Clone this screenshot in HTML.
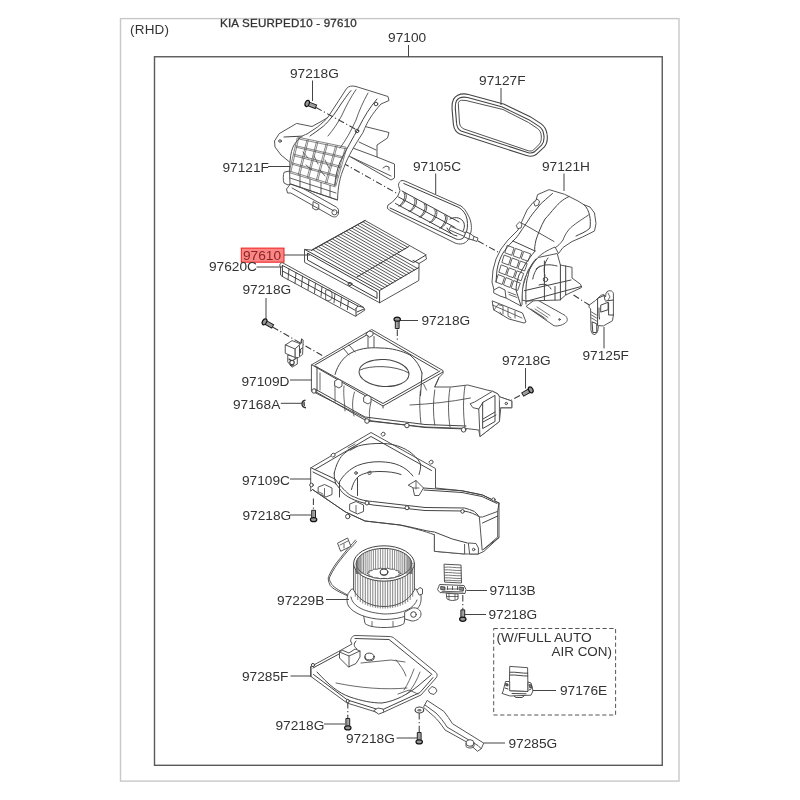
<!DOCTYPE html>
<html><head><meta charset="utf-8">
<style>
html,body{margin:0;padding:0;background:#fff;width:800px;height:800px;overflow:hidden}
svg{display:block;will-change:transform}
text{font-family:"Liberation Sans",sans-serif;font-size:13px;fill:#333}
.p{fill:none;stroke:#555;stroke-width:1;stroke-linejoin:round;stroke-linecap:round}
.pw{fill:#fff;stroke:#555;stroke-width:1;stroke-linejoin:round;stroke-linecap:round}
.l{fill:none;stroke:#444;stroke-width:1}
.d{fill:none;stroke:#3a3a3a;stroke-width:1.05;stroke-dasharray:6.5 2.5 1.2 2.5}
</style></head><body>
<svg width="800" height="800" viewBox="0 0 800 800">
<rect x="120.5" y="18.6" width="558.5" height="762.5" fill="none" stroke="#c8c8c8" stroke-width="1.4"/>
<rect x="154.5" y="56.75" width="507.75" height="708.55" fill="none" stroke="#5a5a5a" stroke-width="1.4"/>

<!-- labels -->
<text x="130" y="34" style="font-size:13.5px;letter-spacing:0.2px">(RHD)</text>
<text x="220" y="27.2" style="font-size:11.6px;letter-spacing:0.2px;stroke:#333;stroke-width:0.3">KIA SEURPED10 - 97610</text>
<text x="388" y="42.4" transform="matrix(1.055 0 0 1 -21.34 0)">97100</text>
<line class="l" x1="408.5" y1="45" x2="408.5" y2="57"/>

<g id="labels">
<text x="290" y="78.5" transform="matrix(1.055 0 0 1 -15.95 0)">97218G</text>
<text x="479" y="85.5" transform="matrix(1.055 0 0 1 -26.34 0)">97127F</text>
<text x="222.5" y="171.8" transform="matrix(1.055 0 0 1 -12.24 0)">97121F</text>
<text x="413" y="170.8" transform="matrix(1.055 0 0 1 -22.71 0)">97105C</text>
<text x="542" y="170.8" transform="matrix(1.055 0 0 1 -29.81 0)">97121H</text>
<rect x="241.3" y="248.1" width="42.7" height="14.1" fill="#fb8686" stroke="#f01c1c" stroke-width="1"/>
<text x="243" y="259.6" style="fill:#8a2424" transform="matrix(1.055 0 0 1 -13.37 0)">97610</text>
<text x="209" y="271.4" transform="matrix(1.055 0 0 1 -11.49 0)">97620C</text>
<text x="242.5" y="294.3" transform="matrix(1.055 0 0 1 -13.34 0)">97218G</text>
<text x="421.5" y="325.3" transform="matrix(1.055 0 0 1 -23.18 0)">97218G</text>
<text x="502" y="365.3" transform="matrix(1.055 0 0 1 -27.61 0)">97218G</text>
<text x="582.5" y="359.8" transform="matrix(1.055 0 0 1 -32.04 0)">97125F</text>
<text x="241.5" y="385.8" transform="matrix(1.055 0 0 1 -13.28 0)">97109D</text>
<text x="233" y="408.8" transform="matrix(1.055 0 0 1 -12.81 0)">97168A</text>
<text x="242" y="484.8" transform="matrix(1.055 0 0 1 -13.31 0)">97109C</text>
<text x="242.5" y="520.2" transform="matrix(1.055 0 0 1 -13.34 0)">97218G</text>
<text x="277" y="605.3" transform="matrix(1.055 0 0 1 -15.23 0)">97229B</text>
<text x="489.5" y="595.2" transform="matrix(1.055 0 0 1 -26.92 0)">97113B</text>
<text x="488.5" y="619.3" transform="matrix(1.055 0 0 1 -26.87 0)">97218G</text>
<text x="496.5" y="642.4" transform="matrix(1.055 0 0 1 -27.31 0)">(W/FULL AUTO</text>
<text x="551.5" y="656.5" transform="matrix(1.035 0 0 1 -19.30 0)">AIR CON)</text>
<text x="560" y="695.5" transform="matrix(1.055 0 0 1 -30.80 0)">97176E</text>
<text x="242" y="680.8" transform="matrix(1.055 0 0 1 -13.31 0)">97285F</text>
<text x="275.5" y="729.8" transform="matrix(1.055 0 0 1 -15.15 0)">97218G</text>
<text x="346" y="743.5" transform="matrix(1.055 0 0 1 -19.03 0)">97218G</text>
<text x="508.5" y="748.1" transform="matrix(1.055 0 0 1 -27.97 0)">97285G</text>
</g>



<!-- dashed center lines -->
<g class="d">
<path d="M343 163L398 194"/>
<path d="M478 241L498 252"/>
<path d="M573.5 295L590 305.5"/>
<path d="M272.5 327L323 356"/>
<path d="M397.3 329.5V340"/>
<path d="M313.4 498.5V510"/>
<path d="M462.8 595V611"/>
<path d="M347.8 702V718"/>
<path d="M419.2 713V732"/>
<path d="M520 395.5L511.5 400"/>
</g>

<!-- 97109D upper case -->
<g class="p" style="stroke:#444">
<path class="pw" d="M311.75 364.75L371.75 329.5L443 370.6L443 373.4L439 377.5L434.75 387L451 387L467.75 385L487 390L492.5 391.25L498 394L499.4 396.75L511.8 401L511.8 407.75L500.8 407.75L499.4 421.5L480 436.6L478.75 430L465 428.4L425 427L368 421L365 418L311.75 391Z"/>
<path d="M311.75 364.75L383 406L443 372M315 366L383 403.5L440 371M315 365L371.75 332L438 370.5"/>
<path d="M311.75 391L317 392.5L365 420L425 427.5L465 429M315 389L365 417L425 424.5L466 426"/>
<path d="M383 406L383 408M317 367L317 391M335 374.5C338 364 344 357 350 353.5C358 349 368 347 380 348C392 348 402 351 410 355C416 360 420 366 422 373M422 373L420.5 395.5"/>
<ellipse cx="384" cy="373" rx="25" ry="13.5" transform="rotate(4 384 373)"/>
<path d="M360 370C370 365 395 365 409 373" stroke-width="0.9"/>
<path d="M368 333V347.5M374 336.5V347M343 348l6 7M349 345l6 7" stroke-width="0.9"/>
<path d="M320 373V390M335 381V402M344 386C343 395 345 405 345 411M354.5 392C352 400 352 408 354 416M371 402C369 410 369 415 370 421" stroke-width="0.8"/>
<path d="M439 377.5L434.75 387M423.75 384.4C425 387 426 389 426.5 390M420.3 391C419 402 420 415 421 424M434.75 390C433 402 433 414 434.75 425M450 388C448 400 448 414 450 427M465 386C463 398 463 414 465 428M410 405C430 404 450 402 470.5 398" stroke-width="0.85"/>
<path class="pw" d="M470.5 403.6L474.6 402L492.5 391.25L498 394L499.4 396.75L499.4 421.5L480 436.6L478.75 409L473.25 407.75Z"/>
<path d="M483 402.25L495 395.4L495 421.5L483 428.4ZM483 419L495 412M483 422L496 415M478.75 409L483 402.25"/>
<path class="pw" d="M499.4 396.75L511.8 401L511.8 407.75L500.8 407.75"/>
<circle cx="506.3" cy="403.5" r="1.2"/>
<circle cx="314" cy="391" r="2.2" fill="#fff"/><circle cx="367" cy="421" r="2.3" fill="#fff"/><circle cx="407" cy="425.5" r="2.3" fill="#fff"/><circle cx="463.6" cy="429.8" r="2.3" fill="#fff"/>
<path class="pw" d="M335 381l3-2l4 2v5l-3 2l-4-2ZM364 397l3-2l4 2v5l-3 2l-4-2Z"/>
<path class="pw" d="M366 334l3-3l4 1v3l-3 2Z" stroke-width="0.9"/>
</g>

<!-- 97109C lower case -->
<g class="p" style="stroke:#444">
<path class="pw" d="M311 467.75L371 432.5L435.5 468.5L435.5 488L462 490.75L482.5 495L499 503L499 537.5L484 551.3L478.4 554L468.75 554L464.6 554L434.4 551.3L434.4 534.8C425 531 412 528 400 525L365 521L345.5 512L312.5 489.5L311 491Z"/>
<path d="M311 467.75L335 479C339 484 341 487 344 489.5C348 494 351 496 354.5 497C360 500 366 501 372.5 501.5L425 507.5L464.6 508C468 509 471 510 474.3 511.4L478.4 515.5M313 472L335 483C339 487 340 490 342.5 492.5C346 496 350 498 354.5 500C362 503 368 504 373 505L425 510.5L464 511C470 512 475 514 479.75 517"/>
<path d="M315 469.5L371 436.5L431.5 470.5"/>
<path d="M423.4 488L462 490.75L482.5 495L499 503M424 490L462 492.5L482 496.5L497 503.5"/>
<path d="M312.5 489.5L345.5 512L365 521L400 525C412 527 425 531 434.4 532L452.3 539L467.4 543"/>
<path d="M334.25 473C336 465 339 459 342.5 455C349 449 356 446 365 444.5C372 443.5 380 443.2 387.5 443.75C397 445 404 448 410 452C415 456 419 460 420.5 464C421 468 420 471 419 474.5"/>
<path d="M339.5 482C343 475 350 469 357.5 465.5C364 463 372 461.5 380 461.75C388 462 394 463 399.5 465.5C405 468 409 471 413 476"/>
<path d="M351.5 489.5C353 483 355.5 479 359 476C365 472.5 372 471.5 380 471.5C388 471.5 396 472.5 401 474.5"/>
<path d="M357.5 477.5V495.5M339.5 482V497M334.25 473C334 478 335 481 336 484"/>
<path class="pw" d="M408.5 485L416 480.5L423.5 488L419 495.5L414.5 495.5L413 488Z"/>
<path d="M416 480.5V489M413 488L419 488" stroke-width="0.8"/>
<circle cx="356" cy="473" r="1.3"/>
<path d="M368 472l3-1v3l-2 .5Z" stroke-width="0.8"/>
<path class="pw" d="M434.4 534.8L434.4 551.3L464.6 554L464.6 544.4"/>
<path class="pw" d="M479.75 517L482.5 517L497.7 511.4L497.7 537L484 549L482.5 550Z"/>
<path d="M499 503L497.7 511.4M482.5 523L497.7 516M484 549L499 537.5"/>
<path class="pw" d="M468.75 543L476 543.5L478.4 548L478.4 554L470 554Z"/>
<circle cx="473.6" cy="549.5" r="1.2"/>
<path class="pw" d="M318.5 487l6-2.5l7.5 3.5v6.5l-6 2.5l-7.5-3.5ZM350 504l6-2.5l7.5 3.5v6.5l-6 2.5l-7.5-3.5Z"/>
<path d="M324.5 488.5v7M356 505.5v7M319 492l4 2" stroke-width="0.8"/>
<circle cx="347.75" cy="516.5" r="2.2" fill="#fff"/><circle cx="367" cy="503" r="2" fill="#fff"/><circle cx="407" cy="507.8" r="2" fill="#fff"/><circle cx="462.6" cy="511.4" r="1.8" fill="#fff"/><circle cx="493.5" cy="499.5" r="1.6" fill="#fff"/>
<circle cx="311.5" cy="485" r="1.8" fill="#fff"/>
<path class="pw" d="M331 455l2-2l2 1v2l-2 1ZM381 434l2-2l2 1v2l-2 1ZM429 462l2-2l2 1v2l-2 1Z" stroke-width="0.9"/>
<path d="M348 448l7-4M350 450.5l7-4" stroke-width="0.8"/>
</g>

<!-- 97229B blower motor -->
<g class="p" style="stroke:#444">
<path d="M347.6 595C338 590 332 586 331.4 583.6C329 580 329 578 329.75 577C333 570 337 564 341 559.25C346 553 350 548 354 544.6L356.5 541.4M349 596.5C339 592 333 589 330.2 585.5C328 581 328 578 328.6 576.5C332 569 336 563 340 558.5C345 552 349 547 352.5 543.5L355.5 540" stroke-width="0.9"/>
<path class="pw" d="M337.9 543L347.6 538L350.9 546.25L341 551.1Z"/>
<path d="M340 545l8-4M344 548v-4" stroke-width="0.8"/>
<path class="pw" d="M363.5 615L365 623.5C368 626 374 627.5 384 627.5C394 627.5 401 626 404 623.5L405.5 615Z"/>
<path d="M372 626.5v-5M393 626.5v-5" stroke-width="0.8"/>
<path class="pw" d="M348 594C346.5 598 346.5 603 348.5 606C353 613 366 619 384 619.5C402 619.5 414 614 419 606.5C421.5 603 421.5 597 420.5 592L416 589L352 589Z"/>
<path d="M351 597C352 604 360 612 384 614C404 614 414 608 417 600" stroke-width="0.9"/>
<path class="pw" d="M405 612L412 608C417 607 421 610 421 614C421 618 417 621 412 621L405 619Z"/>
<circle cx="413.5" cy="614.5" r="2.8"/>
<path class="pw" d="M417 590l3-2.5l2.5 1.5v5l-3 1Z" stroke-width="0.9"/>
<path class="pw" d="M353.6 563.5L353.6 590C360 602 372 606.5 384 606.5C396 606.5 408 602 414.4 590L414.4 563.5Z"/>
<ellipse cx="384" cy="563.5" rx="30.4" ry="17.7" fill="#fff"/>
<ellipse cx="384" cy="563.5" rx="27.8" ry="15.1"/>
<path stroke-width="0.75" stroke="#666" d="M356.2 563.3V573.5M356.4 562.0V573.5M356.9 560.7V573.5M357.5 559.5V573.5M358.3 558.2V573.5M359.3 557.0V573.5M360.6 555.9V573.5M361.9 554.8V573.5M363.5 553.8V573.5M365.2 552.9V573.5M367.1 552.0V573.5M369.1 551.3V572.8M371.2 550.6V572.1M373.4 550.0V571.5M375.6 549.6V571.1M378.0 549.3V570.8M380.4 549.0V570.5M382.8 548.9V570.4M385.2 548.9V570.4M387.6 549.0V570.5M390.0 549.3V570.8M392.4 549.6V571.1M394.6 550.0V571.5M396.8 550.6V572.1M398.9 551.3V572.8M400.9 552.0V573.5M402.8 552.9V573.5M404.5 553.8V573.5M406.1 554.8V573.5M407.4 555.9V573.5M408.7 557.0V573.5M409.7 558.2V573.5M410.5 559.5V573.5M411.1 560.7V573.5M411.6 562.0V573.5M411.8 563.3V573.5"/>
<path d="M401.0 573.5L398.6 574.6L399.3 575.9L395.7 576.5L394.6 577.8L390.5 577.8L387.8 578.8L384.0 578.3L380.2 578.8L377.5 577.8L373.4 577.8L372.3 576.5L368.7 575.9L369.4 574.6L367.0 573.5L369.4 572.4L368.7 571.1L372.3 570.5L373.4 569.2L377.5 569.2L380.2 568.2L384.0 568.7L387.8 568.2L390.5 569.2L394.6 569.2L395.7 570.5L399.3 571.1L398.6 572.4Z" fill="#fff" stroke-width="0.8"/>
<ellipse cx="384" cy="572" rx="4" ry="3" fill="#fff"/>
<path d="M380.5 572.5v1.5c2 2 5 2 7 0v-1.5" stroke-width="0.8"/>
<path stroke-width="0.75" stroke="#555" d="M412.7 569.3V596.3M410.2 572.5V599.5M407.7 574.6V601.6M405.2 576.2V603.2M402.7 577.4V604.4M400.2 578.5V605.5M397.7 579.3V606.3M395.2 579.9V606.9M392.7 580.5V607.5M390.2 580.8V607.8M387.7 581.1V608.1M385.2 581.2V608.2M382.8 581.2V608.2M380.3 581.1V608.1M377.8 580.8V607.8M375.3 580.5V607.5M372.8 579.9V606.9M370.3 579.3V606.3M367.8 578.5V605.5M365.3 577.4V604.4M362.8 576.2V603.2M360.3 574.6V601.6M357.8 572.5V599.5M355.3 569.3V596.3"/>
</g>

<!-- 97285F tray -->
<g class="p" style="stroke:#444">
<path class="pw" d="M311 666.5L338.5 651.5L352 644L350.6 641C351 637 353 635.5 356 635.5L389 636.5C391 636.5 393 637 394.5 638.5L436 672.5C437.5 674 437.5 676.5 436 678L421 695L384 712C381 713 378 713 376 712L347 703L311 676.5Z"/>
<path d="M313 668L339 654M313.5 674.5L347.5 700L378 709.5C380.5 710 382 710 384 709L420 692.5L433 677.5M355 638.5L389 639.5L432 674.5M356 641C353 644 354 647 357 649"/>
<path d="M317 672C328 684 338 693 350 697C362 701 372 703 382 703C396 701 408 694 418 686L431 675M311 676.5V666.5"/>
<path class="pw" d="M339.5 652L339.5 658L348.5 667L356 663.5L360 657L360 651L355 649L349 653L343 650.5Z"/>
<path d="M339.5 652L349 656L360 651M349 656V667" stroke-width="0.9"/>
<path d="M361 663L391 660L405 662M336 683C360 688 385 690 407 688M396 660C400 665 404 670 406 676M414 669C411 677 408 684 404 690M420 672C417 680 413 688 407 694M398 694L409 690L418 694" stroke-width="0.8"/>
<ellipse cx="369.5" cy="656.5" rx="4.6" ry="3.4" fill="#fff"/>
<path d="M365 656.5v2.5c2 2.5 7 2.5 9 0v-2.5" stroke-width="0.9"/>
<path class="pw" d="M428.5 690l3.5-3.5l3.5 1.5l1.5 3l-3 3.5l-3.5-1Z"/>
<circle cx="347.8" cy="701" r="1.6" fill="#fff"/>
<path class="pw" d="M374 710.5l4-2.5l5 1l1 3l-5 2Z"/>
<circle cx="313" cy="665" r="1.6" fill="#fff"/>
</g>

<!-- 97127F gasket -->
<g fill="none" stroke-linejoin="round">
<path d="M464 95.5C459 95.5 456.5 97.5 455 100C453.5 103 453.5 106 453.8 110L455 124C455.5 128 457 131 460.5 132.5L527 154C530 155 533 155 535.5 153L543 146C545.5 143 546 139 545.5 135C545 130 543 127 540 125L530 118.5L503 105.5L468 96C466.5 95.6 465 95.5 464 95.5Z" stroke="#444" stroke-width="4.4"/>
<path d="M464 95.5C459 95.5 456.5 97.5 455 100C453.5 103 453.5 106 453.8 110L455 124C455.5 128 457 131 460.5 132.5L527 154C530 155 533 155 535.5 153L543 146C545.5 143 546 139 545.5 135C545 130 543 127 540 125L530 118.5L503 105.5L468 96C466.5 95.6 465 95.5 464 95.5Z" stroke="#fff" stroke-width="2.2"/>
<path d="M461.5 100.3C459.5 100.5 458.5 101.5 458.3 103.5L459.5 123C460 126 461.5 128 464 129L528.5 150.8C530.5 151.3 532 151 533.5 150L539.5 144C541 142 541.5 139.5 541.3 136C541 132 539.5 130 537.5 128.5L528.5 122.5L503 109.5L466 100.5Z" stroke="#4a4a4a" stroke-width="0.95"/>
</g>

<!-- 97105C door -->
<g class="p" style="stroke:#3e3e3e">
<path class="pw" d="M402 180.5C399.5 180.8 398.5 183 398.5 185.5L400 190.75L397.75 196L392.5 202L388 205L387.25 208L389.5 210.25L455 243C460 245 465 244 468 240L471 232C472 226 471 220 468 215C466 211 464 208 461 206L406 181.5C404.5 180.8 403.5 180.5 402 180.5Z"/>
<path d="M403.75 183.5L459 207.5C463 210 466 214 467 219C468 225 467.5 231 465 236C462.5 239.5 459.5 240 456 239L390 208"/>
<path d="M402 191L459 222M398.5 197L455 227.5M395.5 203.5L451 233.5"/>
<path stroke-width="0.9" d="M405.0 192.6C409.0 195.6 404.0 204.9 400.0 205.9M403.8 192.9C407.0 195.6 402.5 204.4 398.8 206.1M415.2 198.2C419.2 201.2 414.2 210.4 410.2 211.4M414.0 198.5C417.2 201.2 412.7 209.9 409.0 211.6M425.4 203.7C429.4 206.7 424.4 216.0 420.4 217.0M424.2 204.0C427.4 206.7 422.9 215.5 419.2 217.2M435.6 209.3C439.6 212.3 434.6 221.5 430.6 222.5M434.4 209.6C437.6 212.3 433.1 221.0 429.4 222.7M445.8 214.8C449.8 217.8 444.8 227.0 440.8 228.0M444.6 215.1C447.8 217.8 443.3 226.5 439.6 228.2"/>
<path d="M450 219c6 -3 12 -1 14 4c1 4 0 8 -3 10M447 228c2 4 5 7 10 8"/>
<path class="pw" d="M451 226.5L466 233L464.5 236.5L449.5 230Z"/>
<path class="pw" d="M466 232L470 233.5L474 236.5L478 238L477 241.5L473 240L469 239L464.5 237Z"/>
<path d="M470 233.5L469 239M474 236.5l-1 3.5" stroke-width="0.8"/>
</g>

<!-- 97610 filter -->
<g class="p" style="stroke:#3a3a3a">
<path class="pw" d="M304.9 249.5L311.5 250L365 220.5L425.5 254.5L426.5 259L419 263.5V267.5L418.8 280.5L379.6 302.75L304.9 262.5Z"/>
<path d="M304.9 249.5L379.6 290.5V302.75M307.5 253.5V260L377 298.5V292.5Z"/>
<path d="M379.6 290.5L418.8 267.5M397.5 254L413.5 262.5L426 255M413 260.5L419 263.5"/>
<path d="M356.9 277L408.9 246.5" />
<path d="M365 220.5L311.5 250.5" />
<path stroke-width="0.85" d="M312.9 249.7L358.9 275.9M315.7 248.2L361.6 274.3M318.5 246.7L364.3 272.7M321.4 245.2L367.0 271.1M324.2 243.6L369.7 269.5M327.0 242.1L372.4 267.9M329.8 240.6L375.1 266.3M332.6 239.1L377.8 264.7M335.4 237.5L380.5 263.1M338.2 236.0L383.2 261.6M341.1 234.5L385.9 260.0M343.9 232.9L388.6 258.4M346.7 231.4L391.3 256.8M349.5 229.9L394.1 255.2M352.3 228.4L396.8 253.6M355.1 226.8L399.5 252.0M358.0 225.3L402.2 250.4M360.8 223.8L404.9 248.9M363.6 222.3L407.6 247.3M359.7 276.3L382.1 289.0M362.4 274.7L384.8 287.5M365.1 273.1L387.5 285.9M367.8 271.5L390.2 284.3M370.5 269.9L392.9 282.7M373.2 268.3L395.6 281.1M375.9 266.7L398.3 279.5M378.6 265.1L401.0 277.9M381.3 263.5L403.7 276.3M384.0 262.0L406.4 274.8M386.7 260.4L409.1 273.2M389.4 258.8L411.9 271.6M392.1 257.2L414.6 270.0M394.9 255.6L417.3 268.4"/>
<ellipse cx="350" cy="284" rx="2" ry="1.5"/>
</g>

<!-- 97620C cover strip -->
<g class="p" style="stroke:#3e3e3e">
<path class="pw" d="M281 263C279.5 263.5 279.5 266 280.5 267L280.5 275L282.4 276.5L354 315.5L355.3 316.3L365 310L363.5 307.4L358 304L283 263Z"/>
<path d="M282.4 265.4L358 306L356 308.5M282.4 265.4V276.5M282.4 271L355.3 310.3M356 308.5V316M358 306L363.5 307.4M357 312L364 309"/>
<path stroke-width="0.9" d="M289.0 268.9L288.0 279.8M296.0 272.7L295.0 283.3M302.5 276.2L301.5 286.6M309.0 279.7L308.0 289.8M315.5 283.2L314.5 293.1M322.0 286.7L321.0 296.3M335.0 293.6L334.0 302.8M341.5 297.1L340.5 306.1M348.4 300.8L347.4 309.5"/>
<path d="M326 290c3 -1 6 1 6 4v4c-1 3 -4 3 -6 2Z" stroke-width="0.8"/>
</g>

<!-- 97121F duct -->
<g class="p" style="stroke:#444">
<path class="pw" d="M297 123.5L312 126.5L322 121L330 116L328 130L322 140L308 134L296 146L293 160L292 164L281 155L275 147L274.5 141L279 134Z"/>
<ellipse cx="280" cy="141" rx="1.4" ry="1.2"/>
<path d="M284 137L305 136"/>
<path class="pw" d="M361 125.5L389 132.5L387.5 138L377 145L377 157L394.5 164L394.5 178L391 180L338.5 150L350 140Z"/>
<path d="M351 157L391 176M377 157L350 147M359 142L376 150M383 168l3-2l3 1v3" stroke-width="0.9"/>
<path class="pw" d="M289 186L286.5 189L287.5 193L290.75 193L331 215.75C334 218 338 217 338.5 213C339 210 338 208 336.25 207L292.5 182.5Z"/>
<path d="M292 188L334 211M313.5 201.75L318.75 204.5V209L316 210L313 208.5Z" stroke-width="0.9"/>
<circle cx="334.5" cy="212.3" r="2.6" stroke-width="0.9"/>
<path class="pw" d="M284 172.5C283 174 283 181 284 183L288 185L291 184L291 171Z"/>
<path class="pw" d="M347 88C349 86 352 85.5 356 86.5L388 96.5L389 100.5L381 104C372 114 367 122 363 132.5C355 145 348 156 344 167.5C340 177 338 186 337.5 200L290 184C289 165 290 152 294 145C298 139 303 135 307 134L317.5 127C322 123 326 120 328 117L338.5 101Z"/>
<path d="M351 90.5C347 95 344 100 341 104C337 110 334 115 331 118C327 123 324 126 321 128C317 131 313 134 310 136"/>
<path d="M377 99C370 107 364 117 359 127C353 138 346 150 340 162C337 170 335 178 335 185"/>
<path d="M356 89.6C351 97 346 106 342 115C338 123 333 130 328 136M368 93C363 102 359 111 356 120C351 131 346 140 340 148" stroke-width="0.85"/>
<circle cx="376" cy="104" r="1.8"/><circle cx="357" cy="131" r="1.8"/>
<path stroke-width="0.7" stroke="#555" d="M298.0 137.2L346.0 147.2M298.0 138.8L346.0 148.8M296.0 145.8L343.2 156.8M296.0 147.2L343.2 158.2M294.0 154.2L340.5 166.2M294.0 155.8L340.5 167.8M292.0 162.8L337.8 175.8M292.0 164.2L337.8 177.2M290.0 171.2L335.0 185.2M290.0 172.8L335.0 186.8M297.2 138.0L289.2 172.0M298.8 138.0L290.8 172.0M306.9 140.0L298.2 174.8M308.4 140.0L299.8 174.8M316.4 142.0L307.2 177.6M317.9 142.0L308.8 177.6M326.1 144.0L316.2 180.4M327.6 144.0L317.8 180.4M335.6 146.0L325.2 183.2M337.1 146.0L326.8 183.2M345.2 148.0L334.2 186.0M346.8 148.0L335.8 186.0"/>
<path d="M290 178L336 193M291 184L337.5 200M300 175.5V187.5M310 179V190.5M321 182.5V194M330 185.5V197" stroke-width="0.85"/>
<path d="M303 152l5 6M314 156l4 8M325 160l4 8M306 165l6 5M320 170l5 6" stroke-width="0.8"/>
</g>

<!-- 97121H duct -->
<g class="p" style="stroke:#444">

<path class="pw" d="M492.5 301L522.5 313L526 322L524 323L509 319L494 310Z"/>
<path d="M494 310L498 304.5L503 306V314M508 308v8l3 2M515 311v7M500 312l2 3M492.5 305L522 318" stroke-width="0.8"/>
<path class="pw" d="M536 299.2L562.5 314C567 316 568 319 566.75 321.5C564 325 558 326.5 554 325.75L526.4 306.6Z"/>
<path d="M533 311L546.5 319.4M535 309L548 317.5M537 307L550 315.5M531 309l13 8.5" stroke-width="0.7"/>
<circle cx="559.5" cy="319.5" r="0.8"/>

<path class="pw" d="M537 257.75L557.2 253.5L560.4 265L572 267.3L572 278L580.6 284.3L581.6 287.5L565.7 295L560 300L526 301L522 300L522 289.6L526.4 274.75Z"/>
<path d="M544.4 261V300M555 286.5V300M560.4 265V300M565.7 266V295M524.25 290.7L571 280M526.4 301.3L581.6 286.4M536 269C542 264 550 264 557 266M532.75 279C534 272 537 268 540 266M548 258C545 262 543 268 545 276M539 285c6-2 10 0 12 4"/>
<circle cx="545.5" cy="279.5" r="2.2"/>

<path class="pw" d="M549.5 189.75L564.5 194.25L578 201L584 204.75L590 207L594.5 213L596 223.5L594.5 231L582.5 237L572 241.5L563 247.5L558.5 253.5L555 247C548 250 540 254 536 260C530 266 527 272 526.4 274.75C523 282 522 289 522 304.5L521 306L506 298L494 290L492 282L493 270L496 259L501 249L508 240L518 230L527 210L533 202.5L536 200.25L537.5 195Z"/>
<path d="M584 204.75C590 210 591 220 590 228C586 232 580 234 576 236"/>
<path d="M552.5 193.5C547 198 543 202 540.5 204C536 210 533 213 530 217.5C526 224 523 228 521 231C518 236 516 238 513 241C508 246 505 250 503 253C500 258 498 264 497 270L496 282"/>
<path d="M569 196.5C562 200 559 203 555.5 207C551 212 548 216 545 219C541 226 538 234 536 240C535 245 534 249 535 251"/>
<path d="M588.5 215C584 218 581 220 578 222C574 225 571 227 569 229.5C566 233 564 237 563 240C560 244 558 246 555.5 247.5M522.5 223.5L554 241.5" stroke-width="0.9"/>
<path d="M513 241L535 251C531 256 528 260 526 263C523 268 521 272 519 275C517 281 516 286 516 290L521 306"/>
<path d="M536 258.8C531 264 529 270 528 276C526 282 525.5 290 526 304"/>
<path stroke-width="0.85" d="M507.5 245.5L514.1 247.9L511.7 255.3L505.2 252.9ZM515.8 248.5L522.4 250.9L519.9 258.3L513.4 255.9ZM524.1 251.5L530.7 253.9L528.1 261.3L521.6 258.9ZM504.5 255.2L510.9 257.6L508.5 265.0L502.2 262.6ZM512.6 258.2L519.1 260.6L516.6 268.0L510.2 265.6ZM520.8 261.2L527.2 263.6L524.6 271.0L518.2 268.6ZM501.5 265.0L507.8 267.4L505.4 274.8L499.2 272.4ZM509.5 268.0L515.8 270.4L513.2 277.8L507.0 275.4ZM517.4 271.0L523.7 273.4L521.1 280.8L514.9 278.4ZM498.5 274.7L504.6 277.1L502.2 284.5L496.2 282.1ZM506.3 277.7L512.4 280.1L509.9 287.5L503.9 285.1ZM514.1 280.7L520.3 283.1L517.6 290.5L511.5 288.1Z"/>
<path class="pw" d="M534 202.5l3-3.5l2.5 2l-1 4l-3 1Z M516.5 225l3-3l2.5 2l-1 4l-3 .5Z" />
<path class="pw" d="M494 290L499 287L505 290L506 298L500 296L494 293Z"/>
<path d="M508 292l8 3M509 294.5l8 3" stroke-width="0.8"/>
</g>

<!-- bracket near 97109D -->
<g class="p" style="stroke:#3a3a3a">
<path class="pw" d="M287.75 355.5L287.75 361.9L292 367.2L297.3 364L297.3 357.6Z"/>
<circle cx="292" cy="362.5" r="2.2" stroke-width="1.1"/>
<path d="M289 359l2 1.5M294 359.5l2-1M290.5 365.5l3-.5" stroke-width="1.2"/>
<path class="pw" d="M285.6 344.9L292 340.6L300.5 343.8L295.2 349.1Z"/>
<path class="pw" d="M285.6 344.9L295.2 349.1L295.2 357.6L285.6 353.4Z"/>
<path class="pw" d="M300.5 343.8L301.6 339L303.2 340.1L302.6 354.4L298.4 357.6L295.2 357.6L295.2 349.1Z"/>
<path d="M299.5 346V356M301.6 339V343M302.6 348l-2 1v4" stroke-width="0.9"/>
</g>

<!-- 97168A clip -->
<path d="M305.5 400.2C303 400.5 302 402.5 302 404C302 406 303.5 407.5 306 407.8M304.5 402.2C303.8 403 303.8 405 304.7 405.8" fill="none" stroke="#333" stroke-width="1.4"/>

<!-- 97113B resistor -->
<g class="p" style="stroke:#333">
<path class="pw" d="M444.4 564.2L461 565L461.5 583L444.9 582.1Z" stroke-width="1.1"/>
<path d="M444.6 567.2C450 566.5 455 568 461 567.8M444.6 569.8C450 569.5 455 570.8 461 570.5M444.7 572.5C450 572 455 573.5 461.2 573.2M444.7 575.2C450 574.8 455 576 461.2 575.8M444.8 577.8C450 577.5 455 578.8 461.3 578.5M444.8 580.3C450 580 455 581 461.4 580.8" stroke-width="0.8" stroke="#555"/>
<path class="pw" d="M440 584.5L464 585.5L466 589.5L465 593.5L440 592.6L437.8 590Z" stroke-width="1.2"/>
<path d="M441 586.5l4 .5v3l-4-.5ZM459.5 587l4 .5v3l-4-.5Z" fill="#888" stroke-width="0.8"/>
<path d="M447 589h11M442 591.3l21 .6M447.5 586.5v3M452.5 586.5v3M457.5 586.5v3" stroke-width="0.8"/>
<path class="pw" d="M446.6 593.3L458 594V599C455.5 601 449.5 601 447.2 599Z" stroke-width="1.1"/>
<path d="M449 594v5.5M455 594.2v5.5M447 596.5h11" stroke-width="0.7"/>
</g>

<!-- 97176E resistor -->
<g class="p" style="stroke:#333">
<path class="pw" d="M510.1 666.4L527.6 667.7L528 691.5L509.7 690.9Z" stroke-width="1.1"/>
<path d="M510.2 672.2C516 671.8 522 673.5 527.7 673.2M510.2 675C516 674.6 522 676.2 527.8 676" stroke-width="0.9"/>
<path class="pw" d="M503 691.5L505.5 681.5L509.7 681.5V690.9L528 691.5V682L531 683L533 690.8L531 695.2L510 696L502.3 693.5Z" stroke-width="1.2"/>
<path d="M506 683.5l2 .5v2l-2-.3ZM529.5 684.5l2 .5l.5 3l-2-.3Z" fill="#777" stroke-width="0.8"/>
<path d="M512 693.5l14 .3M514 696l2 1.5h6l2-1.5M505 688l3 1M529 690l2-1" stroke-width="0.9"/>
</g>

<!-- 97125F actuator -->
<g class="p" style="stroke:#444">
<path class="pw" d="M597.6 298.4L601.1 295.3L603.75 294.4L605.5 297L606 293.1C607 291 609 290.3 611.6 291C613 292 613.4 293 613.4 294L613.4 315L612.5 320.7L603.3 326L598.5 325.5L597.6 331.6L595 334.7L592.4 333.8L591 330.75L590.6 308.9L588.9 307.1L589.3 305L595.4 300.6Z"/>
<path d="M597.6 298.4V325.5M601.1 305L608.1 302.3V309.75L601.1 312ZM605.5 301L613.4 300M608.6 302.75V315H613.4M599 308c0 4 0 8 .5 11M598.5 298l5.5-2.5l1 4.5M592.4 322L596.75 323.75V332.5H593.25Z"/>
<path d="M591.5 312l5 3M591.5 315l5 3M591.5 318l5 3M608 293l2 4l-2 3" stroke-width="0.8"/>
</g>

<!-- 97285G bracket -->
<g class="p">
<path class="pw" d="M427.5 700.6L443.75 711.25C447 715 450 720 452.5 723.75L483.75 743.1L481.25 748.75L477.5 751.25L467.5 742.5L445 730C441 724 437 719 433.75 716.25L423.75 707.5Z"/>
<path d="M425 705L436 713C440 717 444 722 447 727L478 745.5L481.25 748.75"/>
<ellipse cx="419.4" cy="710" rx="4.3" ry="3" fill="#fff" stroke="#444" stroke-width="1.2"/>
<ellipse cx="419.4" cy="710.3" rx="2" ry="1.3" fill="#777" stroke="none"/>
<ellipse cx="470" cy="743" rx="4" ry="3.3" fill="#fff"/>
<path d="M466 743.5v3c2 2 6 2 8 0v-3"/>
</g>
<!-- leaders -->
<g class="l">
<path d="M312.5 80.5V101"/>
<path d="M266 298V320.5"/>
<path d="M501 88V105"/>
<path d="M268 166.5H290"/>
<path d="M435.7 173.5V194"/>
<path d="M564 173.5V191"/>
<path d="M284 255H310"/>
<path d="M256.5 267H282"/>
<path d="M399.5 320.5H418"/>
<path d="M525.5 368V388.5"/>
<path d="M604 327V348.5"/>
<path d="M290 380H312"/>
<path d="M280.8 403.3H302"/>
<path d="M290 479H311"/>
<path d="M290 515H311"/>
<path d="M326 599.5H349"/>
<path d="M466.5 590.5H487"/>
<path d="M465 614.5H486"/>
<path d="M532.5 690.5H556"/>
<path d="M290.5 676H311"/>
<path d="M324 724H345"/>
<path d="M396.6 738H417"/>
<path d="M483.7 743H505"/>
</g>
<g class="d"><path d="M316 107.5L358 130.5"/></g>
<!-- screws -->
<defs>
<g id="scr">
<path d="M-1.9 -1.2V-9H1.9V-1.2" fill="#aaa" stroke="#222" stroke-width="1"/>
<path d="M-0.2 -8V-2.2" stroke="#888" stroke-width="0.7"/>
<path d="M-3.2 0.3C-3.2 -1.1 -2 -1.7 0 -1.7C2 -1.7 3.2 -1.1 3.2 0.3C3 1.8 1.5 2.4 0 2.4C-1.5 2.4 -3 1.8 -3.2 0.3Z" fill="#999" stroke="#111" stroke-width="1.2"/>
</g>
</defs>
<use href="#scr" transform="translate(307.5 103.5) rotate(111)"/>
<use href="#scr" transform="translate(264.8 322) rotate(119)"/>
<use href="#scr" transform="translate(397.2 319.5) rotate(180)"/>
<use href="#scr" transform="translate(530.5 390) rotate(240)"/>
<use href="#scr" transform="translate(313.6 519.3)"/>
<use href="#scr" transform="translate(462.8 618.9)"/>
<use href="#scr" transform="translate(347.8 727.5)"/>
<use href="#scr" transform="translate(419.2 741.5)"/>

<rect x="493.7" y="628.5" width="121.9" height="86.5" fill="none" stroke="#555" stroke-width="1" stroke-dasharray="4.2 2.6"/>

</svg>
</body></html>
